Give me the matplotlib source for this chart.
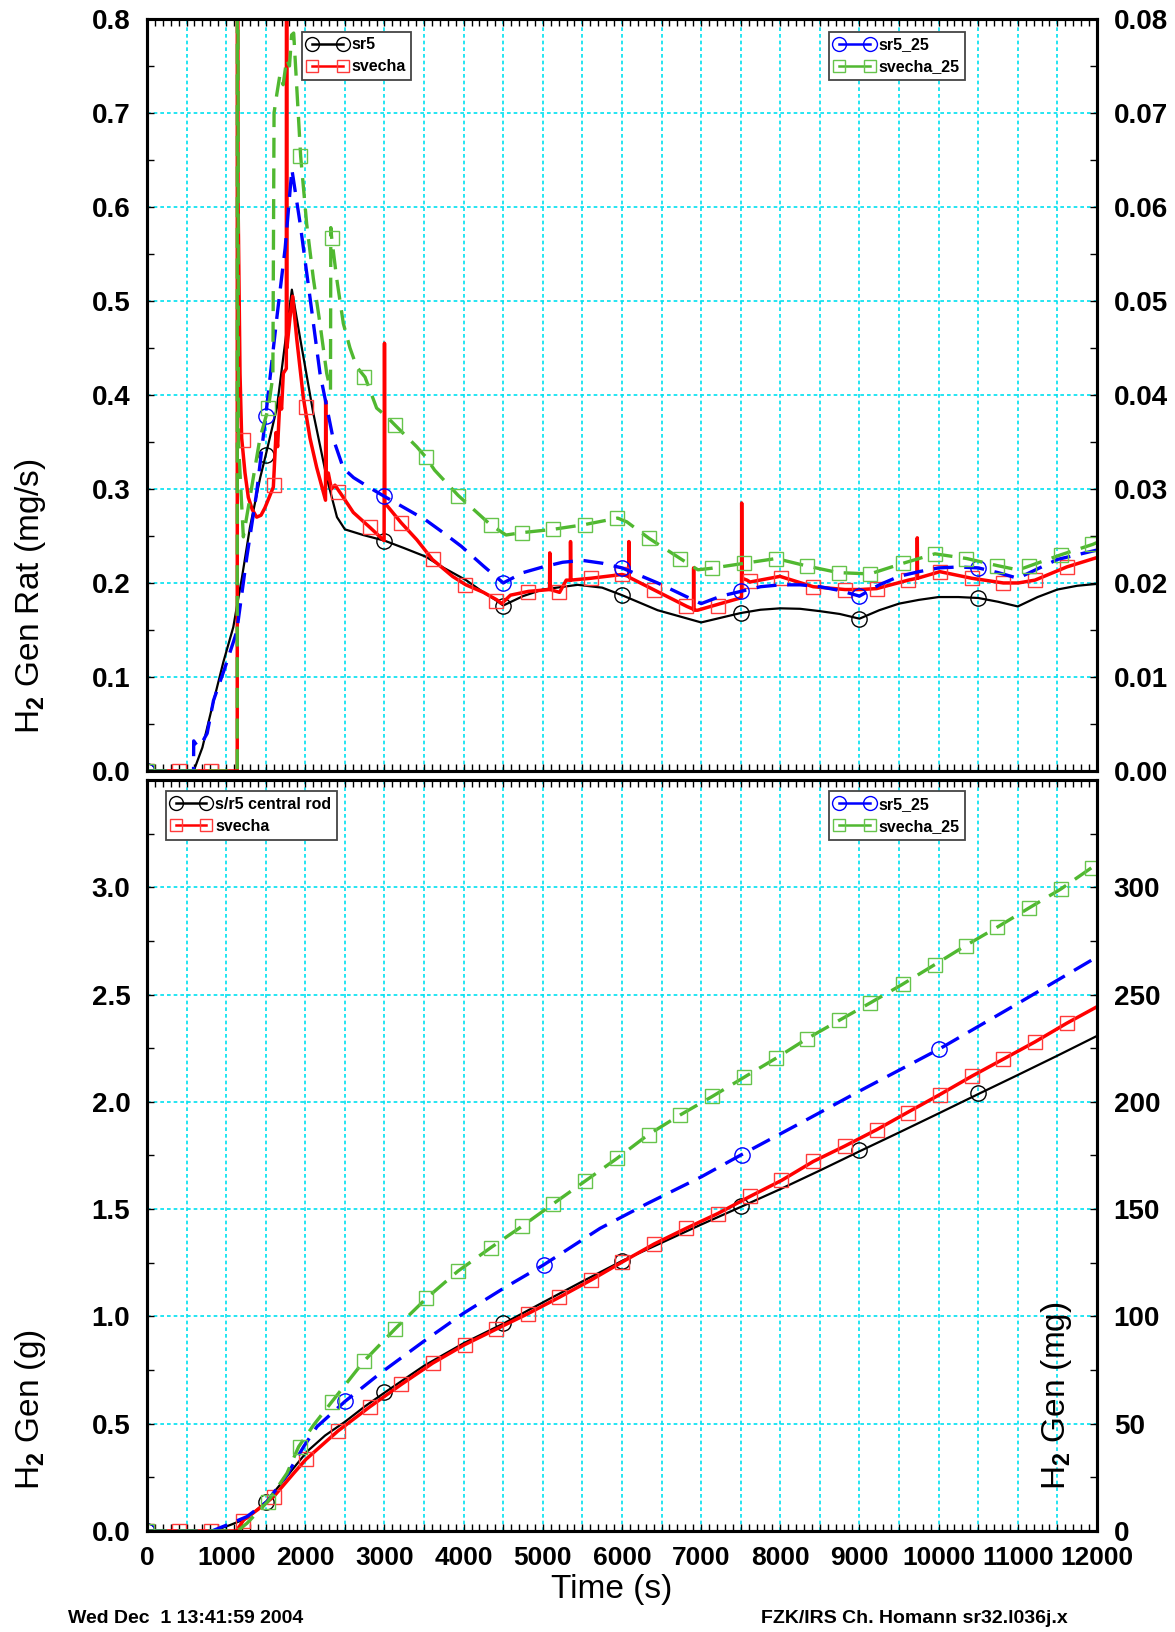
import matplotlib
matplotlib.use("Agg")
import matplotlib.pyplot as plt
from matplotlib.lines import Line2D
from matplotlib.ticker import MultipleLocator, FuncFormatter

plt.rcParams['font.family'] = ['Liberation Sans', 'DejaVu Sans']
plt.rcParams['font.weight'] = 'bold'
plt.rcParams['mathtext.fontset'] = 'custom'
plt.rcParams['mathtext.rm'] = 'Liberation Sans'
plt.rcParams['mathtext.default'] = 'rm'

# ---- H2 generation rate, left axis (mg/s) ----
t_sr5 = [0, 590, 700, 840, 965, 1090, 1200, 1300, 1430, 1500, 1640, 1720, 1830, 1935,
         2100, 2270, 2400, 2500, 2730, 3000, 3250, 3520, 3750, 4030, 4250, 4420, 4500,
         4750, 5000, 5440, 5750, 6000, 6450, 7000, 7500, 7750, 8000, 8250, 8500, 8750,
         9000, 9250, 9500, 9750, 10000, 10250, 10500, 10750, 11000, 11250, 11500, 11750, 12000]
rate_sr5 = [0, 0, 0.025, 0.074, 0.116, 0.153, 0.206, 0.259, 0.312, 0.336, 0.386, 0.439, 0.512, 0.46,
            0.381, 0.312, 0.27, 0.257, 0.251, 0.245, 0.237, 0.228, 0.216, 0.203, 0.19, 0.181, 0.176,
            0.186, 0.193, 0.198, 0.195, 0.187, 0.171, 0.158, 0.168, 0.1715, 0.173, 0.1725, 0.170, 0.167,
            0.162, 0.171, 0.178, 0.182, 0.185, 0.185, 0.184, 0.180, 0.175, 0.185, 0.193, 0.197, 0.199]

t_svecha = [0, 1140, 1141, 1150, 1175, 1196, 1238, 1280, 1330, 1385, 1440, 1490, 1596, 1630, 1650,
            1680, 1700, 1722, 1760, 1764, 1768, 1806, 1840, 1891, 1975, 2059, 2143, 2255, 2257, 2262,
            2290, 2330, 2375, 2480, 2606, 2817, 2995, 3000, 3005, 3211, 3408, 3605, 3859, 4028, 4250,
            4420, 4480, 4591, 4817, 5085, 5088, 5092, 5212, 5296, 5348, 5350, 5354, 5607, 6000, 6084,
            6087, 6091, 6396, 6820, 6903, 6905, 6908, 6956, 7243, 7496, 7510, 7512, 7516, 7580, 7617,
            7995, 8416, 8817, 9010, 9217, 9617, 9728, 9730, 9733, 10016, 10417, 10817, 11006, 11217,
            11617, 12000]
rate_svecha = [0, 0, 1.5, 0.61, 0.423, 0.354, 0.317, 0.291, 0.278, 0.270, 0.272, 0.280, 0.302, 0.36, 0.345,
               0.397, 0.385, 0.423, 0.428, 1.5, 0.45, 0.482, 0.505, 0.46, 0.397, 0.354, 0.323, 0.288, 0.394, 0.31,
               0.317, 0.300, 0.304, 0.291, 0.275, 0.259, 0.245, 0.455, 0.285, 0.264, 0.246, 0.225, 0.207, 0.198, 0.19,
               0.182, 0.178, 0.187, 0.191, 0.193, 0.232, 0.193, 0.19, 0.203, 0.203, 0.244, 0.203, 0.205, 0.209, 0.207,
               0.244, 0.206, 0.193, 0.175, 0.172, 0.216, 0.171, 0.171, 0.178, 0.184, 0.185, 0.285, 0.205, 0.203, 0.201,
               0.207, 0.196, 0.193, 0.193, 0.194, 0.203, 0.205, 0.248, 0.205, 0.212, 0.205, 0.200, 0.200, 0.203,
               0.217, 0.227]

# ---- H2 generation rate, right axis (mg/s) ----
t_sr5_25 = [0, 588, 590, 640, 700, 760, 840, 985, 1133, 1260, 1385, 1500, 1640, 1745, 1830, 1935, 2060,
            2185, 2350, 2480, 2610, 2800, 3000, 3250, 3520, 3750, 3970, 4250, 4500, 4750, 5000, 5250,
            5500, 5750, 6000, 6450, 7000, 7250, 7500, 7750, 8000, 8250, 8500, 8750, 9000, 9250, 9500,
            9750, 10000, 10250, 10500, 10750, 11000, 11250, 11500, 11750, 12000]
rate_sr5_25 = [0, 0, 0.0032, 0.0026, 0.0031, 0.0040, 0.0075, 0.011, 0.0148, 0.0227, 0.0296, 0.0378, 0.0482,
               0.0556, 0.064, 0.0582, 0.0503, 0.0423, 0.0354, 0.0322, 0.0312, 0.0302, 0.0292, 0.028, 0.0267,
               0.0253, 0.0239, 0.0218, 0.020, 0.0211, 0.0217, 0.0222, 0.0224, 0.0221, 0.0216, 0.020, 0.0178,
               0.0186, 0.0191, 0.0196, 0.0198, 0.0198, 0.0196, 0.0192, 0.0186, 0.0198, 0.0207, 0.0212, 0.0216,
               0.0217, 0.0216, 0.0211, 0.0205, 0.0215, 0.0225, 0.023, 0.0235]

t_svecha_25 = [0, 1140, 1141, 1155, 1217, 1301, 1427, 1533, 1590, 1605, 1640, 1680, 1720, 1764, 1800, 1827,
               1853, 1941, 2017, 2101, 2185, 2270, 2318, 2322, 2333, 2396, 2480, 2564, 2648, 2754, 2901, 3027,
               3132, 3406, 3521, 3633, 3932, 4338, 4535, 4733, 5128, 5522, 5945, 6061, 6341, 6735, 6959, 7129,
               7552, 7948, 8337, 8732, 9132, 9553, 9953, 10353, 10744, 11006, 11145, 11545, 11946, 12000]
rate_svecha_25 = [0, 0, 0.15, 0.035, 0.0249, 0.0291, 0.0354, 0.0386, 0.042, 0.070, 0.072, 0.0741, 0.073, 0.0757,
                  0.075, 0.0783, 0.0785, 0.0654, 0.0582, 0.0524, 0.0476, 0.0423, 0.0405, 0.0578, 0.0567, 0.0524,
                  0.0476, 0.045, 0.043, 0.0419, 0.0386, 0.0377, 0.0368, 0.0345, 0.0334, 0.032, 0.0293, 0.0262,
                  0.0251, 0.02535, 0.0257, 0.0262, 0.0269, 0.0265, 0.02475, 0.0226, 0.0214, 0.02156, 0.0221,
                  0.0226, 0.0218, 0.0211, 0.02096, 0.0221, 0.0231, 0.0226, 0.02184, 0.02138, 0.0218, 0.023,
                  0.0241, 0.0243]

# symbol positions (every n-th output point of each run)
mark_t_sr5 = [0, 1500, 3000, 4500, 6000, 7500, 9000, 10500]
mark_t_svecha = [0, 408, 812, 1208, 1604, 2008, 2414, 2812, 3212, 3608, 4016, 4412, 4812, 5210, 5610,
                 6006, 6400, 6814, 7210, 7614, 8010, 8416, 8816, 9217, 9610, 10016, 10417, 10817, 11216, 11617]
mark_t_svecha_25 = [0, 1530, 1935, 2335, 2745, 3135, 3525, 3930, 4340, 4738, 5132, 5528, 5940, 6336, 6734,
                    7137, 7546, 7946, 8339, 8737, 9137, 9547, 9949, 10347, 10743, 11145, 11545, 11940]
mark_t_sr5_25_cum = [0, 2505, 5010, 7511, 10008]

mark_rate_sr5 = [0, 0.336, 0.245, 0.176, 0.187, 0.168, 0.162, 0.184]
mark_rate_svecha = [0, 0, 0, 0.352, 0.304, 0.387, 0.297, 0.26, 0.264, 0.225, 0.198, 0.181, 0.19, 0.19, 0.205,
                    0.209, 0.193, 0.175, 0.176, 0.202, 0.205, 0.196, 0.193, 0.194, 0.203, 0.212, 0.205, 0.200,
                    0.203, 0.217]
mark_rate_sr5_25 = [0, 0.0378, 0.0292, 0.020, 0.0216, 0.0191, 0.0186, 0.0216]
mark_rate_svecha_25 = [0, 0.0386, 0.0654, 0.0567, 0.0419, 0.0368, 0.0334, 0.0293, 0.0262, 0.02535, 0.0257,
                       0.0262, 0.0269, 0.02475, 0.0226, 0.02156, 0.0221, 0.0226, 0.0218, 0.0211, 0.02096,
                       0.0221, 0.0231, 0.0226, 0.02184, 0.0218, 0.023, 0.0241]

# ---- integrated H2 generation: left axis (g), right axis (mg) ----
t_cum_sr5 = [0, 800, 900, 1052, 1263, 1507, 1768, 2021, 2250, 2505, 2750, 3010, 3500, 4000, 4505, 5000,
             5500, 6008, 6500, 7000, 7524, 8000, 8500, 9027, 9500, 10000, 10522, 11000, 11500, 12000]
cum_sr5 = [0, 0, 0.008, 0.028, 0.059, 0.137, 0.255, 0.37, 0.445, 0.51, 0.58, 0.647, 0.77, 0.875, 0.967,
           1.065, 1.163, 1.26, 1.343, 1.428, 1.514, 1.593, 1.68, 1.774, 1.857, 1.946, 2.04, 2.125, 2.215, 2.307]

t_cum_svecha = [0, 1128, 1221, 1400, 1600, 1853, 2008, 2412, 2812, 3212, 3608, 4012, 4408, 4808, 5208,
                5612, 6010, 6404, 6808, 7208, 7617, 8017, 8416, 8816, 9217, 9604, 10016, 10417, 10817,
                11216, 11617, 12000]
cum_svecha = [0, 0, 0.051, 0.1, 0.16, 0.269, 0.334, 0.466, 0.578, 0.683, 0.782, 0.868, 0.94, 1.012, 1.089,
              1.17, 1.255, 1.337, 1.41, 1.479, 1.559, 1.634, 1.722, 1.794, 1.87, 1.95, 2.034, 2.119, 2.199,
              2.279, 2.366, 2.443]

t_cum_sr5_25 = [0, 820, 1010, 1263, 1516, 1768, 1979, 2147, 2505, 2947, 3500, 4000, 4500, 5010, 5722,
                6315, 7000, 7511, 8250, 9000, 10008, 11000, 12000]
cum_sr5_25 = [0, 0, 2.8, 6.7, 13.7, 26.1, 39.3, 48.6, 60.5, 73.5, 88.5, 101.5, 113, 124, 141, 152.5, 165,
              175.4, 190, 205, 224.6, 245.8, 267.5]

t_cum_svecha_25 = [0, 1141, 1178, 1263, 1525, 1768, 1916, 2105, 2337, 2737, 3137, 3528, 3928, 4345, 4745,
                   5136, 5536, 5936, 6332, 6732, 7145, 7541, 7945, 8341, 8741, 9141, 9540, 9945, 10341,
                   10741, 11145, 11545, 11932, 12000]
cum_svecha_25 = [0, 0, 1.0, 3.6, 13.7, 26.9, 39.3, 49.4, 60.3, 79, 94.3, 108.4, 121.1, 132.1, 142.2, 152.6,
                 163.1, 173.6, 184.7, 193.8, 202.6, 211.4, 220.3, 229.5, 237.9, 246.2, 254.7, 263.8, 272.8,
                 281.4, 290.4, 299.2, 309.1, 310.8]

mark_cum_sr5 = [0, 0.137, 0.647, 0.967, 1.26, 1.514, 1.774, 2.04]
mark_cum_svecha = [0, 0, 0, 0.045, 0.16, 0.334, 0.466, 0.578, 0.683, 0.782, 0.868, 0.94, 1.012, 1.089, 1.17,
                   1.255, 1.337, 1.41, 1.479, 1.559, 1.634, 1.722, 1.794, 1.87, 1.95, 2.034, 2.119, 2.199,
                   2.279, 2.366]
mark_cum_sr5_25 = [0, 60.5, 124, 175.4, 224.6]
mark_cum_svecha_25 = [0, 13.7, 39.3, 60.3, 79, 94.3, 108.4, 121.1, 132.1, 142.2, 152.6, 163.1, 173.6, 184.7,
                      193.8, 202.6, 211.4, 220.3, 229.5, 237.9, 246.2, 254.7, 263.8, 272.8, 281.4, 290.4,
                      299.2, 309.1]

BLACK = 'black'
RED = '#ff0000'
RED_M = '#ff3b3b'
BLUE = '#0000ff'
GREEN = '#50b830'
GREEN_M = '#66c44c'
GRID = '#00e0f0'
DASH = (6, 3.2)

line_kw = {
    'sr5': dict(color=BLACK, lw=1.6),
    'svecha': dict(color=RED, lw=2.5),
    'sr5_25': dict(color=BLUE, lw=2.4, dashes=DASH),
    'svecha_25': dict(color=GREEN, lw=2.4, dashes=DASH),
}
mark_kw = {
    'sr5': dict(marker='o', ms=11, mfc='none', mec=BLACK, mew=1.0, ls='none'),
    'svecha': dict(marker='s', ms=10, mfc='none', mec=RED_M, mew=1.0, ls='none'),
    'sr5_25': dict(marker='o', ms=11, mfc='none', mec=BLUE, mew=1.0, ls='none'),
    'svecha_25': dict(marker='s', ms=10, mfc='none', mec=GREEN_M, mew=1.0, ls='none'),
}


def handle(key):
    lk = line_kw[key]
    mk = mark_kw[key]
    return Line2D([], [], color=lk['color'], lw=1.8, marker=mk['marker'], ms=mk['ms'] - 1,
                  mfc='none', mec=mk['mec'], mew=1.0)


def add_legend(ax, keys, labels, anchor):
    leg = ax.legend([handle(k) for k in keys], labels, loc='upper left', bbox_to_anchor=anchor,
                    borderaxespad=0, numpoints=2, handlelength=2.5, handletextpad=0.25,
                    labelspacing=0.45, borderpad=0.35, fancybox=False, framealpha=1,
                    edgecolor='#444444', prop={'weight': 'bold', 'size': 11.5})
    leg.get_frame().set_linewidth(1.3)
    return leg


def style(ax, axr, ylim, yrlim, ymaj, ymin, yrmaj, yrmin, lfmt, rfmt, ytop, yrtop, xlabels):
    ax.set_xlim(0, 12000)
    ax.set_ylim(*ylim)
    axr.set_ylim(*yrlim)
    ax.xaxis.set_major_locator(MultipleLocator(500))
    ax.xaxis.set_minor_locator(MultipleLocator(100))
    ax.xaxis.set_major_formatter(FuncFormatter(lambda v, p: '%d' % v if v % 1000 == 0 else ''))
    ax.yaxis.set_major_locator(MultipleLocator(ymaj))
    ax.yaxis.set_minor_locator(MultipleLocator(ymin))
    ax.yaxis.set_major_formatter(FuncFormatter(lambda v, p: (lfmt % v) if v <= ytop + 1e-9 else ''))
    axr.yaxis.set_major_locator(MultipleLocator(yrmaj))
    axr.yaxis.set_minor_locator(MultipleLocator(yrmin))
    axr.yaxis.set_major_formatter(FuncFormatter(lambda v, p: (rfmt % v) if v <= yrtop + 1e-9 else ''))
    ax.grid(True, which='major', color=GRID, ls=(0, (2.2, 1.8)), lw=1.2)
    ax.set_axisbelow(True)
    ax.tick_params(axis='x', which='both', direction='in', top=True, bottom=True,
                   length=5, width=1, labelsize=19, pad=10.5, labelbottom=xlabels)
    ax.tick_params(axis='y', which='both', direction='in', length=5, width=1, labelsize=20, pad=12)
    axr.tick_params(axis='y', which='both', direction='in', length=5, width=1, labelsize=20, pad=12)
    for a in (ax, axr):
        for sp in a.spines.values():
            sp.set_linewidth(2.2)


fig = plt.figure(figsize=(11.75, 16.32), dpi=100)
ax1 = fig.add_axes([0.1251, 0.5276, 0.8085, 0.4608])
ax2 = ax1.twinx()
ax3 = fig.add_axes([0.1251, 0.0619, 0.8085, 0.4602])
ax4 = ax3.twinx()

# top panel: generation rate
ax1.plot(t_sr5, rate_sr5, **line_kw['sr5'])
ax1.plot(mark_t_sr5, mark_rate_sr5, **mark_kw['sr5'])
ax1.plot(t_svecha, rate_svecha, **line_kw['svecha'])
ax1.plot(mark_t_svecha, mark_rate_svecha, **mark_kw['svecha'])
ax2.plot(t_sr5_25, rate_sr5_25, **line_kw['sr5_25'])
ax2.plot(mark_t_sr5, mark_rate_sr5_25, **mark_kw['sr5_25'])
ax2.plot(t_svecha_25, rate_svecha_25, **line_kw['svecha_25'])
ax2.plot(mark_t_svecha_25, mark_rate_svecha_25, **mark_kw['svecha_25'])

style(ax1, ax2, (0, 0.8), (0, 0.08), 0.1, 0.05, 0.01, 0.005, '%.1f', '%.2f', 0.8, 0.08, False)
leg = add_legend(ax2, ['sr5', 'svecha'], ['sr5', 'svecha'], (0.163, 0.983))
ax2.add_artist(leg)
add_legend(ax2, ['sr5_25', 'svecha_25'], ['sr5_25', 'svecha_25'], (0.718, 0.983))

# bottom panel: integrated generation
ax3.plot(t_cum_sr5, cum_sr5, **line_kw['sr5'])
ax3.plot(mark_t_sr5, mark_cum_sr5, **mark_kw['sr5'])
ax3.plot(t_cum_svecha, cum_svecha, **line_kw['svecha'])
ax3.plot(mark_t_svecha, mark_cum_svecha, **mark_kw['svecha'])
ax4.plot(t_cum_sr5_25, cum_sr5_25, **line_kw['sr5_25'])
ax4.plot(mark_t_sr5_25_cum, mark_cum_sr5_25, **mark_kw['sr5_25'])
ax4.plot(t_cum_svecha_25, cum_svecha_25, **line_kw['svecha_25'])
ax4.plot(mark_t_svecha_25, mark_cum_svecha_25, **mark_kw['svecha_25'])

style(ax3, ax4, (0, 3.5), (0, 350), 0.5, 0.25, 50, 25, '%.1f', '%d', 3.0, 300, True)
leg = add_legend(ax4, ['sr5', 'svecha'], ['s/r5 central rod', 'svecha'], (0.0197, 0.985))
ax4.add_artist(leg)
add_legend(ax4, ['sr5_25', 'svecha_25'], ['sr5_25', 'svecha_25'], (0.718, 0.985))

# axis titles
lab = dict(fontsize=24, fontweight='normal', rotation=90, ha='center', va='bottom')
fig.text(0.026, 0.550, 'H$_2$ Gen Rat (mg/s)', **lab)
fig.text(0.026, 0.087, 'H$_2$ Gen (g)', **lab)
fig.text(0.899, 0.087, 'H$_2$ Gen (mg)', **lab)
fig.text(0.521, 0.026, 'Time (s)', fontsize=24, fontweight='normal', ha='center', va='center')

fig.text(0.058, 0.0085, 'Wed Dec  1 13:41:59 2004', fontsize=14, fontweight='bold', va='center')
fig.text(0.648, 0.0085, 'FZK/IRS Ch. Homann sr32.l036j.x', fontsize=14, fontweight='bold', va='center')

fig.savefig('out.png', dpi=100)
